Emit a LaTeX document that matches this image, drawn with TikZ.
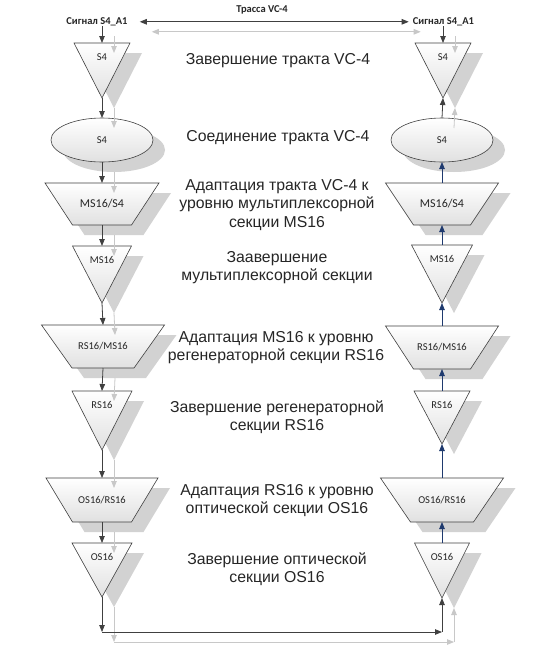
\documentclass[tikz,border=0pt]{standalone}
\usepackage{fontspec}
\newfontfamily\arialf{Liberation Sans}
\newfontfamily\calf{Carlito}
\usetikzlibrary{arrows.meta}
\definecolor{edgec}{RGB}{64,64,64}
\definecolor{shadc}{RGB}{210,210,210}
\definecolor{cshad}{RGB}{200,200,200}
\definecolor{bluec}{RGB}{31,58,110}
\tikzset{
  >={Triangle[length=7pt,width=5.5pt]},
  shp/.style={draw=edgec, line width=0.6pt, top color=white, bottom color=black!12},
  shd/.style={fill=shadc, draw=none},
  lbl/.style={font=\calf\fontsize{10.5}{12}\selectfont, inner sep=0pt, text=black!85},
  txt/.style={font=\arialf\fontsize{15.8}{18.2}\selectfont, align=center, inner sep=0pt, text=black!85},
  sig/.style={font=\calf\bfseries\fontsize{10.5}{12}\selectfont, inner sep=0pt, anchor=base, text=black!85},
  conn/.style={draw=edgec, line width=0.8pt, ->},
  connsh/.style={draw=cshad, line width=0.8pt, ->},
  bconn/.style={draw=bluec, line width=0.8pt, ->}
}
% name, cx, top, half width, apex, label, opts
\newcommand\mytri[7]{%
  \fill[shd] ({#2-#4+12},{#3+10}) -- ({#2+#4+12},{#3+10}) -- ({#2+12},{#5+10}) -- cycle;
  \draw[shp] ({#2-#4},#3) -- ({#2+#4},#3) -- (#2,#5) -- cycle;
  \coordinate (#1-t) at (#2,#3);
  \coordinate (#1-b) at (#2,#5);
  \node[lbl,#7] (#1) at (#2,{#3+14}) {#6};
}
% name, cx, top, half top, bottom, half bottom, label, opts
\newcommand\mytrap[8]{%
  \fill[shd] ({#2-#4+12},{#3+10}) -- ({#2+#4+12},{#3+10}) -- ({#2+#6+12},{#5+10}) -- ({#2-#6+12},{#5+10}) -- cycle;
  \draw[shp] ({#2-#4},#3) -- ({#2+#4},#3) -- ({#2+#6},#5) -- ({#2-#6},#5) -- cycle;
  \coordinate (#1-t) at (#2,#3);
  \coordinate (#1-b) at (#2,#5);
  \node[lbl,#8] (#1) at (#2,{(#3+#5)/2}) {#7};
}
% name, cx, cy, rx, ry, label
\newcommand\myell[6]{%
  \fill[shd] ({#2+12},{#3+10}) ellipse [x radius=#4, y radius=#5];
  \draw[shp] (#2,#3) ellipse [x radius=#4, y radius=#5];
  \coordinate (#1-t) at (#2,{#3-#5});
  \coordinate (#1-b) at (#2,{#3+#5});
  \node[lbl] (#1) at (#2,#3) {#6};
}
\newcommand\darkconns[1]{%
  \draw[#1] (L1-t |- sigL.south) -- (L1-t);
  \draw[#1] (R1-t |- sigR.south) -- (R1-t);
  \draw[#1,<->] ([xshift=12pt]sigL.east) -- ([xshift=-4pt]sigR.west);
  \draw[#1] (L1-b) -- (L2-t);
  \draw[#1] (L2-b) -- (L3-t);
  \draw[#1] (L3-b) -- (L4-t);
  \draw[#1] (L4-b) -- (L5-t);
  \draw[#1] (L5-b) -- (L6-t);
  \draw[#1] (L6-b) -- (L7-t);
  \draw[#1] (L7-b) -- (L8-t);
  \draw[#1] (L8-b) -- (cL);
  \draw[#1] (cL) -- (cR);
  \draw[#1] (cR) -- (R8-b);
  \draw[#1] (R2-t) -- (R1-b);
}
\begin{document}
\begin{tikzpicture}[x=1pt,y=-1pt]
  \useasboundingbox[fill=white] (0,0) rectangle (540,662);

  % top labels
  \node[sig] (sigL) at (97,24.5) {Сигнал S4\_A1};
  \node[sig] (sigR) at (443.5,24.5) {Сигнал S4\_A1};
  \node[sig] (trace) at (262,12.5) {Трасса VC-4};

  % left column
  \mytri{L1}{102}{43}{28}{98}{S4}{}
  \myell{L2}{102}{140}{51}{22}{S4}
  \mytrap{L3}{102}{183}{57}{225}{29.5}{MS16/S4}{font=\calf\fontsize{12}{14}\selectfont}
  \mytri{L4}{102}{246}{29.5}{303}{MS16}{}
  \mytrap{L5}{103}{325}{61.5}{368}{31}{RS16/MS16}{}
  \mytri{L6}{102}{391}{30}{450}{RS16}{}
  \mytrap{L7}{102}{478}{56}{522}{29.5}{OS16/RS16}{}
  \mytri{L8}{102}{543}{30}{597}{OS16}{}

  % right column
  \mytri{R1}{443}{43}{28}{98}{S4}{}
  \myell{R2}{442}{140}{51}{22}{S4}
  \mytrap{R3}{442}{183}{56.5}{225}{28.5}{MS16/S4}{font=\calf\fontsize{12}{14}\selectfont}
  \mytri{R4}{442}{245}{30.5}{303}{MS16}{}
  \mytrap{R5}{442}{326}{56.5}{369}{28.5}{RS16/MS16}{}
  \mytri{R6}{442}{391}{28}{444}{RS16}{}
  \mytrap{R7}{442}{478}{61.5}{522}{31.5}{OS16/RS16}{}
  \mytri{R8}{442}{543}{27.5}{598}{OS16}{}

  \coordinate (cL) at (102,632);
  \coordinate (cR) at (442,632);

  % middle texts
  \node[txt] (t1) at (278,61) {Завершение тракта VC-4};
  \node[txt] (t2) at (278,138) {Соединение тракта VC-4};
  \node[txt] (t3) at (277,205) {Адаптация тракта VC-4 к\\уровню мультиплексорной\\секции MS16};
  \node[txt] (t4) at (277,268) {Заавершение\\мультиплексорной секции};
  \node[txt] (t5) at (276,347.5) {Адаптация MS16 к уровню\\регенераторной секции RS16};
  \node[txt] (t6) at (277,417.5) {Завершение регенераторной\\секции RS16};
  \node[txt] (t7) at (277,500.5) {Адаптация RS16 к уровню\\оптической секции OS16};
  \node[txt] (t8) at (277,569.5) {Завершение оптической\\секции OS16};

  % connector shadows
  \begin{scope}[transform canvas={shift={(12,10)}}]
    \darkconns{connsh}
  \end{scope}
  % connectors
  \darkconns{conn}
  \draw[bconn] (R3-t) -- (R2-b);
  \draw[bconn] (R4-t) -- (R3-b);
  \draw[bconn] (R5-t) -- (R4-b);
  \draw[bconn] (R6-t) -- (R5-b);
  \draw[bconn] (R7-t) -- (R6-b);
  \draw[bconn] (R8-t) -- (R7-b);
\end{tikzpicture}
\end{document}
